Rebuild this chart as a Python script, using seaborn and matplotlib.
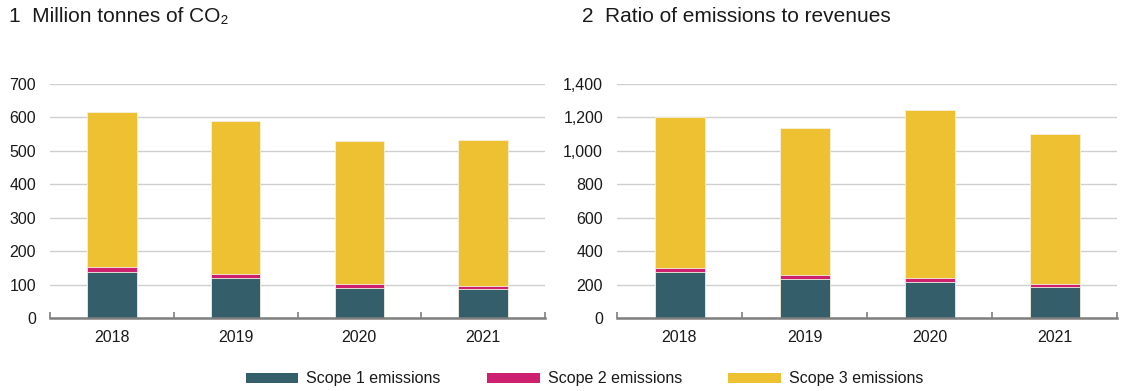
import matplotlib
matplotlib.use("Agg")
import matplotlib.pyplot as plt
from matplotlib.patches import Patch
from matplotlib.ticker import FuncFormatter, FixedLocator
import numpy as np
import pandas as pd
import seaborn as sns

years = ["2018", "2019", "2020", "2021"]

# Panel 1: million tonnes of CO2
tonnes_scope1 = [138, 120, 90, 87]
tonnes_scope2 = [14, 11, 11, 10]
tonnes_scope3 = [464, 459, 429, 435]

# Panel 2: ratio of emissions to revenues
ratio_scope1 = [274, 232, 214, 184]
ratio_scope2 = [26, 26, 28, 22]
ratio_scope3 = [900, 880, 1000, 896]

series_names = ["Scope 1 emissions", "Scope 2 emissions", "Scope 3 emissions"]
colors = ["#345E6A", "#CD2170", "#EEC133"]

panel_titles = ["1  Million tonnes of CO\u2082", "2  Ratio of emissions to revenues"]
y_limits = [700, 1400]
y_steps = [100, 200]

sns.set_theme(style="white")
plt.rcParams["font.family"] = ["Liberation Sans", "DejaVu Sans"]

fig = plt.figure(figsize=(11.27, 3.91), dpi=100)
ax_rects = [
    [50 / 1127, 1 - 318 / 391, 495 / 1127, 234 / 391],
    [617 / 1127, 1 - 318 / 391, 500 / 1127, 234 / 391],
]

panels = [
    (tonnes_scope1, tonnes_scope2, tonnes_scope3),
    (ratio_scope1, ratio_scope2, ratio_scope3),
]

for i, (s1, s2, s3) in enumerate(panels):
    ax = fig.add_axes(ax_rects[i])
    s1 = np.array(s1)
    s2 = np.array(s2)
    s3 = np.array(s3)
    # stacked bars drawn as overlapping cumulative totals, back to front
    layers = [s1 + s2 + s3, s1 + s2, s1]
    layer_colors = [colors[2], colors[1], colors[0]]
    for vals, col in zip(layers, layer_colors):
        df = pd.DataFrame({"year": years, "value": vals})
        sns.barplot(data=df, x="year", y="value", color=col, width=0.4,
                    edgecolor="#f4f0e0", linewidth=0.6, saturation=1,
                    ax=ax, zorder=3)

    ax.set_xlim(-0.5, len(years) - 0.5)
    ax.set_ylim(0, y_limits[i])
    ax.set_yticks(np.arange(0, y_limits[i] + 1, y_steps[i]))
    ax.yaxis.set_major_formatter(FuncFormatter(lambda v, p: f"{int(v):,}"))
    ax.set_xlabel("")
    ax.set_ylabel("")

    ax.grid(axis="y", color="#cfcfcf", linewidth=1.0, zorder=0)
    ax.set_axisbelow(True)
    for side in ["left", "right", "top"]:
        ax.spines[side].set_visible(False)
    ax.spines["bottom"].set_color("#7f7f7f")
    ax.spines["bottom"].set_linewidth(1.8)
    ax.spines["bottom"].set_zorder(5)

    ax.tick_params(axis="y", length=0, pad=10, labelsize=11.5, labelcolor="#1a1a1a")
    ax.tick_params(axis="x", which="major", length=0, pad=9, labelsize=11.5,
                   labelcolor="#1a1a1a")
    ax.xaxis.set_minor_locator(FixedLocator(np.arange(-0.5, len(years), 1.0)))
    ax.tick_params(axis="x", which="minor", direction="in", length=4,
                   width=1.2, color="#7f7f7f", bottom=True)

    title_x = 9 / 1127 if i == 0 else 582 / 1127
    fig.text(title_x, 1 - 17 / 391, panel_titles[i], fontsize=15,
             color="#1a1a1a", ha="left", va="center")

handles = [Patch(facecolor=c, edgecolor="none", label=n)
           for c, n in zip(colors, series_names)]
fig.legend(handles=handles, loc="center", bbox_to_anchor=(0.5186, 1 - 379 / 391),
           ncol=3, frameon=False, fontsize=11.5, handlelength=3.3,
           handleheight=0.6, handletextpad=0.5, columnspacing=2.9,
           labelcolor="#1a1a1a")

fig.savefig("out.png", dpi=100)
